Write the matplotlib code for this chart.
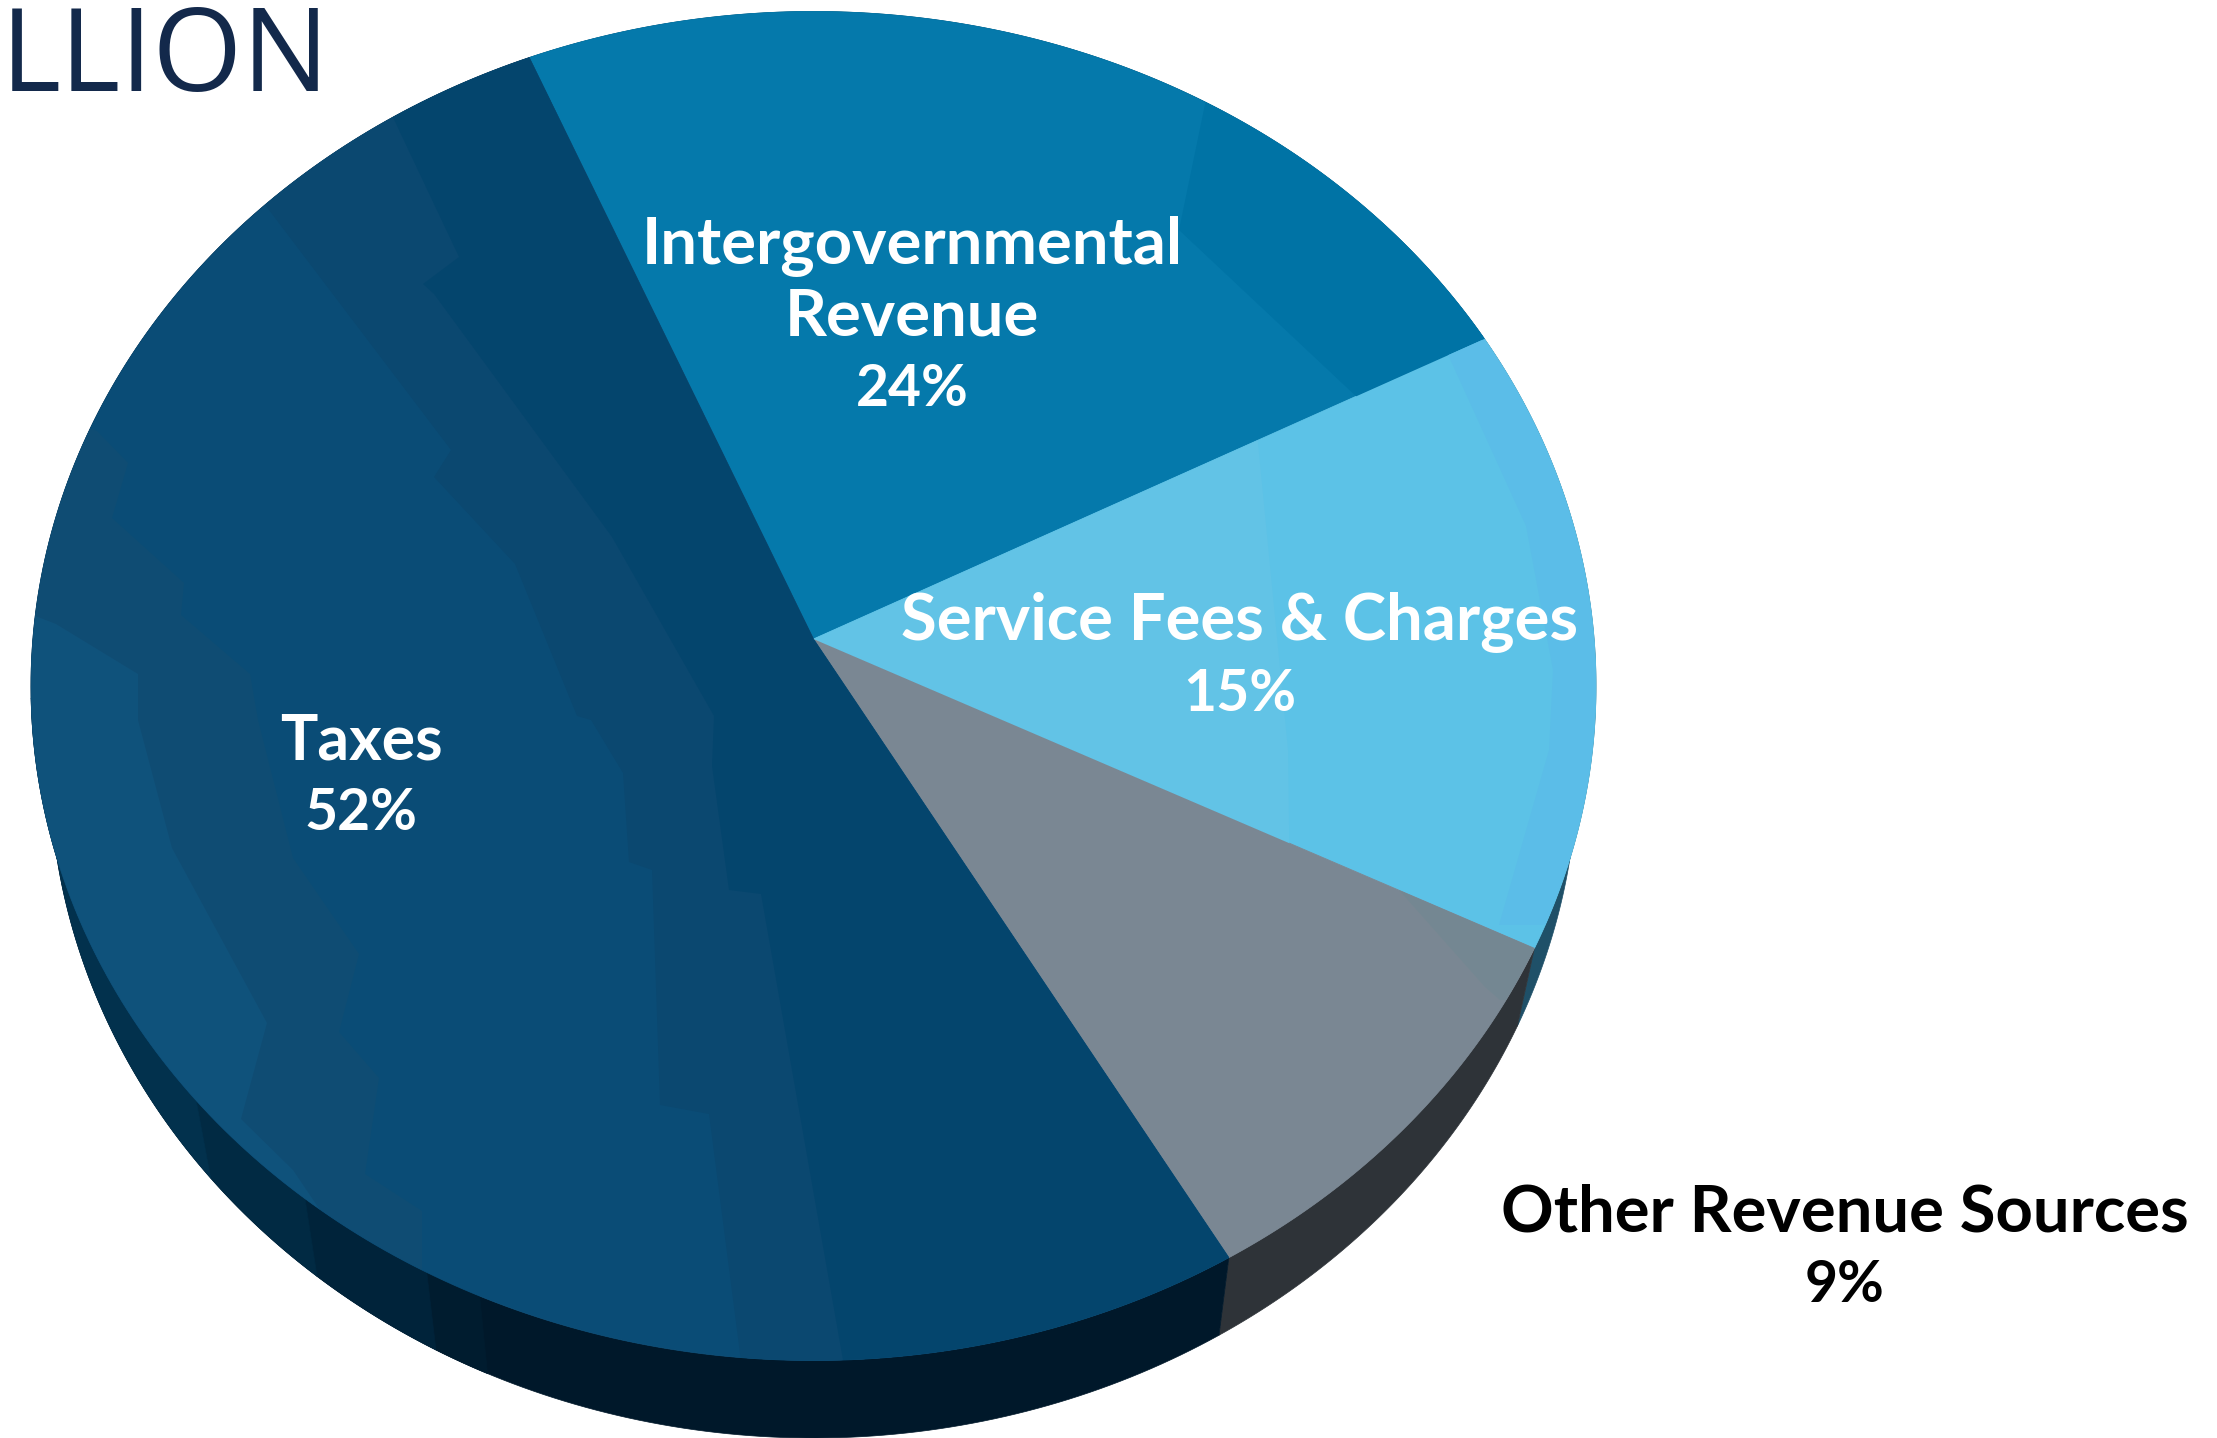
import numpy as np
import matplotlib
matplotlib.use("Agg")
import matplotlib.pyplot as plt

# data
categories = ["Taxes", "Intergovernmental\nRevenue", "Service Fees & Charges", "Other Revenue Sources"]
labelled_shares = [52, 24, 15, 9]         # the percentages printed on the chart
drawn_shares = [52, 23.7, 15, 9.3]        # the slice sizes
title_fragment = "LLION"

# style
TOP_COLORS = {"Taxes": "#0a4c76", "Intergovernmental\nRevenue": "#0579ab",
              "Service Fees & Charges": "#5cc2e7", "Other Revenue Sources": "#7a8793"}
SIDE_COLORS = {"Taxes": "#00182a", "Intergovernmental\nRevenue": "#00405f",
               "Service Fees & Charges": "#1f5068", "Other Revenue Sources": "#2e3338"}
W, H = 2217, 1438
APEX = (813.5, 639.0)
RX, RY = 782.5, 674.5
K = 47.0 / RY
START = -22.8           # degrees, clockwise from top, Taxes/Intergov boundary
BOT_RX, BOT_RY, BOT_CY = 764.0, 674.0, 764.0
LINE_STEP = 71

# shading texture of the faces: slice, outline, closing points, colour
FACETS = [
    ("Taxes", [(40, 410), (97, 431), (128, 463), (112, 518), (184, 583), (181, 615), (250, 674),
               (258, 720), (293, 858), (359, 954), (339, 1032), (379, 1078), (365, 1174),
               (422, 1211), (422, 1300)], [(-50, 1300)], "#0f4c73"),
    ("Taxes", [(20, 610), (56, 624), (138, 674), (138, 720), (172, 848), (267, 1023), (241, 1119),
               (293, 1170), (320, 1210)], [(-50, 1300)], "#0f527b"),
    ("Taxes", [(250, 185), (451, 450), (434, 477), (515, 564), (577, 716), (591, 720), (623, 773),
               (629, 862), (652, 870), (660, 1105), (709, 1114), (746, 1400)],
     [(1300, 1500), (1300, -100), (250, -100)], "#0b4870"),
    ("Taxes", [(385, 100), (398, 128), (459, 257), (423, 284), (434, 294), (612, 537), (714, 716),
               (712, 766), (729, 890), (761, 894), (850, 1400)],
     [(1300, 1500), (1300, -100), (385, -100)], "#04456d"),
    ("Intergovernmental\nRevenue", [(1210, 80), (1179, 230), (1360, 400)],
     [(1700, 400), (1700, 80)], "#0073a5"),
    ("Service Fees & Charges", [(1244, 300), (1288, 750), (1290, 900)],
     [(700, 900), (700, 300)], "#62c3e6"),
    ("Service Fees & Charges", [(1440, 340), (1450, 359), (1526, 526), (1553, 670), (1549, 750),
                                (1499, 925)], [(1700, 925), (1700, 340)], "#5bbde8"),
    ("Other Revenue Sources", [(1399, 890), (1485, 987), (1500, 1000)],
     [(1700, 1000), (1700, 890)], "#748792"),
]
SIDE_BANDS = [(203.6, 207.7, "#001c2f"), (207.7, 218, "#00233a"),
              (218, 229, "#012a43"), (229, 265, "#02314d")]
LABEL_BASELINE = {"Taxes": (361, 830), "Intergovernmental\nRevenue": (912, 406),
                  "Service Fees & Charges": (1240, 711), "Other Revenue Sources": (1845, 1302)}


def project(theta, rx=RX, ry=RY, cy=None):
    """Perspective view of a disc: theta clockwise from the top."""
    t = np.radians(theta)
    u, v = np.sin(t), np.cos(t)
    w = 1 + K * v
    sx = rx * np.sqrt(1 - K ** 2)
    sy = ry * (1 - K ** 2)
    apex_y = APEX[1] if cy is None else cy - K * ry
    return APEX[0] + sx * u / w, apex_y - sy * v / w


def arc(t0, t1, **kw):
    return project(np.linspace(t0, t1, 240), **kw)


def sector(ax, t0, t1, color, z):
    x, y = arc(t0, t1)
    return ax.fill(np.r_[APEX[0], x], np.r_[APEX[1], y], color=color, lw=0.6, zorder=z)[0]


def side(ax, t0, t1, color, z):
    xt, yt = arc(t0, t1)
    xb, yb = arc(t0, t1, rx=BOT_RX, ry=BOT_RY, cy=BOT_CY)
    ax.fill(np.r_[xt, xb[::-1]], np.r_[yt, yb[::-1]], color=color, lw=0.5, zorder=z)


fig = plt.figure(figsize=(W / 100, H / 100), dpi=100, facecolor="white")
ax = fig.add_axes([0, 0, 1, 1])
ax.set_xlim(0, W)
ax.set_ylim(H, 0)
ax.axis("off")

# slices, clockwise: Intergovernmental first, then round to Taxes
order = [1, 2, 3, 0]
faces = {}
cur = START
for i in order:
    name = categories[i]
    a, b = cur, cur + drawn_shares[i] * 3.6
    side(ax, a, b, SIDE_COLORS[name], 1)
    faces[name] = sector(ax, a, b, TOP_COLORS[name], 3)
    cur = b

for t0, t1, c in SIDE_BANDS:
    side(ax, t0, t1, c, 2)

for n, (name, outline, closing, color) in enumerate(FACETS):
    pts = np.array(outline + closing, float)
    poly = ax.fill(pts[:, 0], pts[:, 1], color=color, lw=0, zorder=4 + n * 0.1)[0]
    poly.set_clip_path(faces[name])

# labels
label_font = ["Lato", "DejaVu Sans"]
for name, share in zip(categories, labelled_shares):
    color = "black" if name.startswith("Other") else "white"
    x, y = LABEL_BASELINE[name]
    ax.text(x, y, f"{share}%", ha="center", va="baseline", color=color,
            family=label_font, weight="bold", fontsize=41, zorder=10)
    size = 45 if name == "Taxes" else 47
    for k, line in enumerate(reversed(name.split("\n")), start=1):
        ax.text(x, y - k * LINE_STEP, line, ha="center", va="baseline", color=color,
                family=label_font, weight="bold", fontsize=size, zorder=10)

ax.text(1, 91, title_fragment, ha="left", va="baseline", color="#13294b",
        family=["Open Sans", "DejaVu Sans"], fontsize=83, zorder=10)

fig.savefig("out.png", dpi=100, facecolor="white")
